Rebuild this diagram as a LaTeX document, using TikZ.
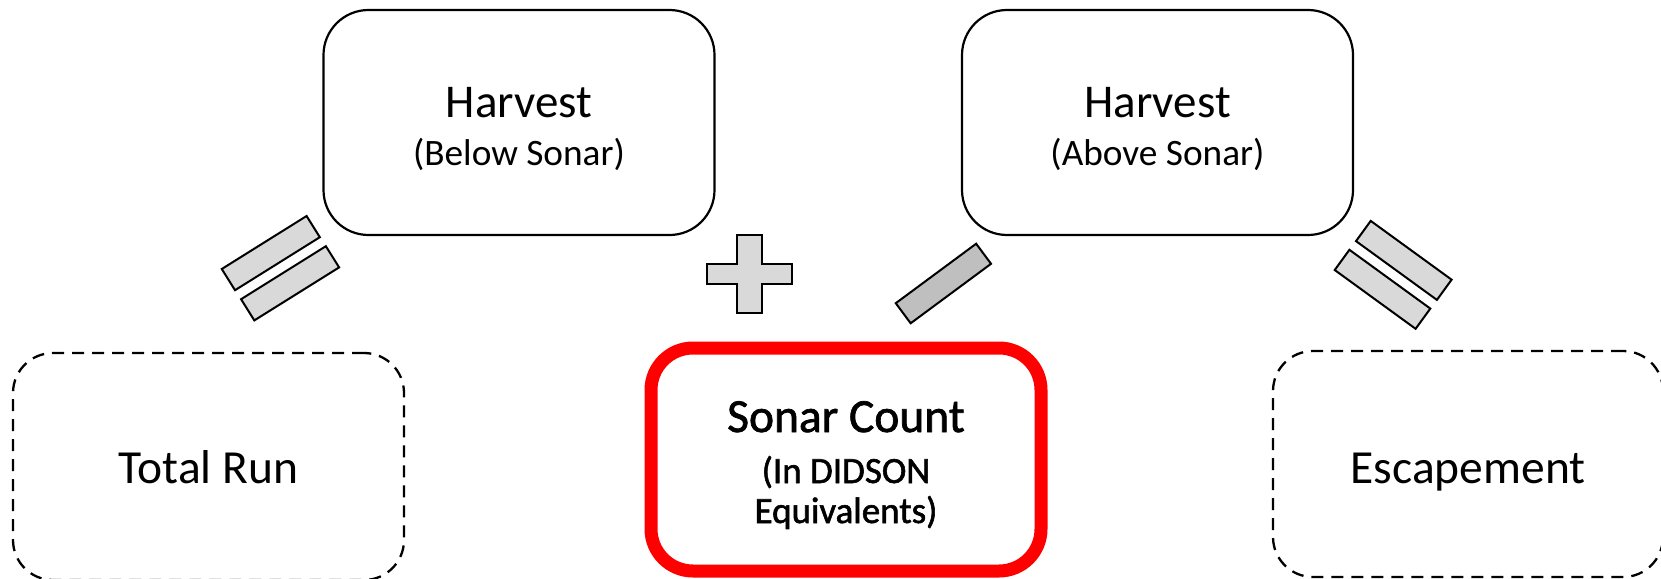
\documentclass[tikz,border=0pt]{standalone}
\usepackage{fontspec}
\setmainfont{Carlito}
\newfontfamily\heavyfont[FakeBold=1.5]{Carlito}
\begin{document}
\begin{tikzpicture}[x=1pt,y=-1pt,
  solidbox/.style={draw, line width=2.2pt, rounded corners=45pt,
    minimum width=391pt, minimum height=225pt, inner sep=0pt},
  dashbox/.style={draw, line width=2.3pt, dash pattern=on 12pt off 8pt,
    rounded corners=40pt, minimum width=390pt, minimum height=226pt, inner sep=0pt},
  sonarbox/.style={draw=sonarred, line width=13pt, rounded corners=42pt,
    minimum width=390pt, minimum height=223pt, inner sep=0pt},
  bar/.style={draw, line width=2pt, fill=lightbar, minimum width=100pt,
    minimum height=25pt, inner sep=0pt},
  title/.style={anchor=base, inner sep=0pt, font=\fontsize{47.5}{47.5}\selectfont},
  subtitle/.style={anchor=base, inner sep=0pt, font=\fontsize{37.3}{40}\selectfont},
]
\definecolor{sonarred}{HTML}{FF0000}
\definecolor{lightbar}{HTML}{D9D9D9}
\definecolor{darkbar}{HTML}{BFBFBF}
\useasboundingbox (0,0) rectangle (1661,578);

% harvest boxes
\node[solidbox] (hbelow) at (519,122.5) {};
\node[title, font=\fontsize{47}{47}\selectfont] (hbelowt) at (519,117) {Harvest};
\node[subtitle] (hbelows) at (519,165) {(Below Sonar)};

\node[solidbox] (habove) at (1157.5,122.5) {};
\node[title, font=\fontsize{47}{47}\selectfont] (habovet) at (1157.5,117) {Harvest};
\node[subtitle] (haboves) at (1157.5,165) {(Above Sonar)};

% bottom row
\node[dashbox, minimum width=391pt, minimum height=227pt] (total) at (208.5,466.5) {};
\node[title] (totalt) at (208.5,483) {Total Run};

\node[sonarbox] (sonar) at (846,459.5) {};
\node[title, font=\heavyfont\fontsize{47.5}{47.5}\selectfont] (sonart) at (846,432) {Sonar Count};
\node[subtitle, font=\heavyfont\fontsize{37}{40}\selectfont] (sonars1) at (846,483) {(In DIDSON};
\node[subtitle, font=\heavyfont\fontsize{37}{40}\selectfont] (sonars2) at (846,523) {Equivalents)};

\node[dashbox] (escape) at (1468,464) {};
\node[title] (escapet) at (1468,483) {Escapement};

% equals sign, left
\node[bar, rotate=32] (eqla) at (270.8,253.1) {};
\node[bar, rotate=32] (eqlb) at (290.1,283.3) {};

% plus sign
\begin{scope}[shift={(749.5,274.2)}]
  \draw[line width=2pt, fill=lightbar]
    (-12.8,-39.2) -- (12.8,-39.2) -- (12.8,-9.85) -- (42.2,-9.85) --
    (42.2,9.85) -- (12.8,9.85) -- (12.8,39.2) -- (-12.8,39.2) --
    (-12.8,9.85) -- (-42.2,9.85) -- (-42.2,-9.85) -- (-12.8,-9.85) -- cycle;
\end{scope}

% minus sign
\node[bar, fill=darkbar, rotate=36.5] (minus) at (943.4,283.5) {};

% equals sign, right
\node[bar, rotate=-36] (eqra) at (1403.8,260.4) {};
\node[bar, rotate=-36] (eqrb) at (1382.5,289.3) {};
\end{tikzpicture}
\end{document}
